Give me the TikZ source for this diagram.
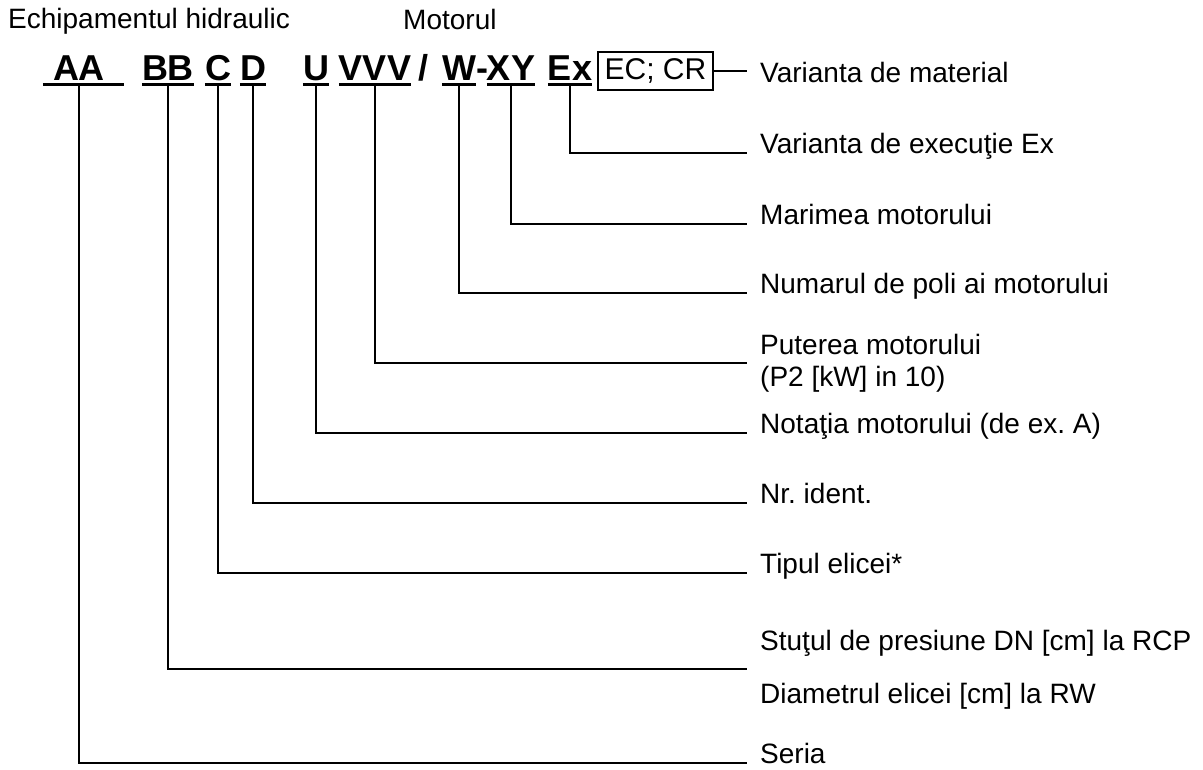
\documentclass[tikz,border=0pt]{standalone}
\usepackage{fontspec}
\setmainfont{Liberation Sans}
\frenchspacing
\begin{document}
\begin{tikzpicture}[x=1pt,y=-1pt,
    code/.style={font=\fontsize{36}{40}\selectfont\bfseries, inner sep=0pt, anchor=base},
    lbl/.style={font=\fontsize{28}{32}\selectfont, inner xsep=13pt, inner ysep=0pt, anchor=base west, align=left},
    head/.style={font=\fontsize{28}{32}\selectfont, inner sep=0pt, anchor=base west},
    uline/.style={line width=3pt},
    conn/.style={line width=1.5pt}]
    \useasboundingbox (0,0) rectangle (1203,769);
    \node[head] (hydr) at (8,28) {Echipamentul hidraulic};
    \node[head] (motor) at (403,29) {Motorul};
    % code
    \node[code] (aa) at (79,80) {AA};
    \node[code] (bb) at (168,80) {BB};
    \node[code] (c) at (218,80) {C};
    \node[code] (d) at (253,80) {D};
    \node[code] (u) at (316,80) {U};
    \node[code] (vvv) at (375,80) {VVV};
    \node[code] (slash) at (423,80) {/};
    \node[code] (w) at (459,80) {W};
    \node[code] (dash) at (482,80) {-};
    \node[code] (xy) at (511,80) {XY};
    \node[code] (ex) at (570,80) {Ex};
    \node[draw, line width=1.2pt, font=\fontsize{30}{36}\selectfont, minimum width=115pt, minimum height=38pt, inner sep=0pt] (ecr) at (655.5,71) {EC; CR};
    \foreach \n in {bb,c,d,u,vvv,w,xy,ex}
        \draw[uline] ([yshift=-4pt]\n.south west) -- ([yshift=-4pt]\n.south east);
    \draw[uline, shorten <=-10pt, shorten >=-19pt] ([yshift=-4pt]aa.south west) -- ([yshift=-4pt]aa.south east);
    % labels
    \node[lbl] (material) at (747,82) {Varianta de material};
    \node[lbl] (exec) at (747,153) {Varianta de execuţie Ex};
    \node[lbl] (marime) at (747,224) {Marimea motorului};
    \node[lbl] (poli) at (747,293) {Numarul de poli ai motorului};
    \node[lbl, anchor=west] (putere) at (747,363) {Puterea motorului\\(P2 [kW] in 10)};
    \node[lbl] (notatie) at (747,433) {Notaţia motorului (de ex. A)};
    \node[lbl] (ident) at (747,503) {Nr. ident.};
    \node[lbl] (elice) at (747,573) {Tipul elicei*};
    \node[lbl] (stut) at (747,650) {Stuţul de presiune DN [cm] la RCP};
    \node[lbl] (diam) at (747,703) {Diametrul elicei [cm] la RW};
    \coordinate (bbend) at (747,669);
    \node[lbl] (seria) at (747,763) {Seria};
    % connectors
    \draw[line width=1.2pt] (ecr.east) -- (ecr.east -| material.west);
    \draw[conn] ([yshift=-4pt]ex.south) |- (exec.base west);
    \draw[conn] ([yshift=-4pt]xy.south) |- (marime.base west);
    \draw[conn] ([yshift=-4pt]w.south) |- (poli.base west);
    \draw[conn] ([yshift=-4pt]vvv.south) |- (putere.west);
    \draw[conn] ([yshift=-4pt]u.south) |- (notatie.base west);
    \draw[conn] ([yshift=-4pt]d.south) |- (ident.base west);
    \draw[conn] ([yshift=-4pt]c.south) |- (elice.base west);
    \draw[conn] ([yshift=-4pt]bb.south) |- (bbend);
    \draw[conn] ([yshift=-4pt]aa.south) |- (seria.base west);
\end{tikzpicture}
\end{document}
